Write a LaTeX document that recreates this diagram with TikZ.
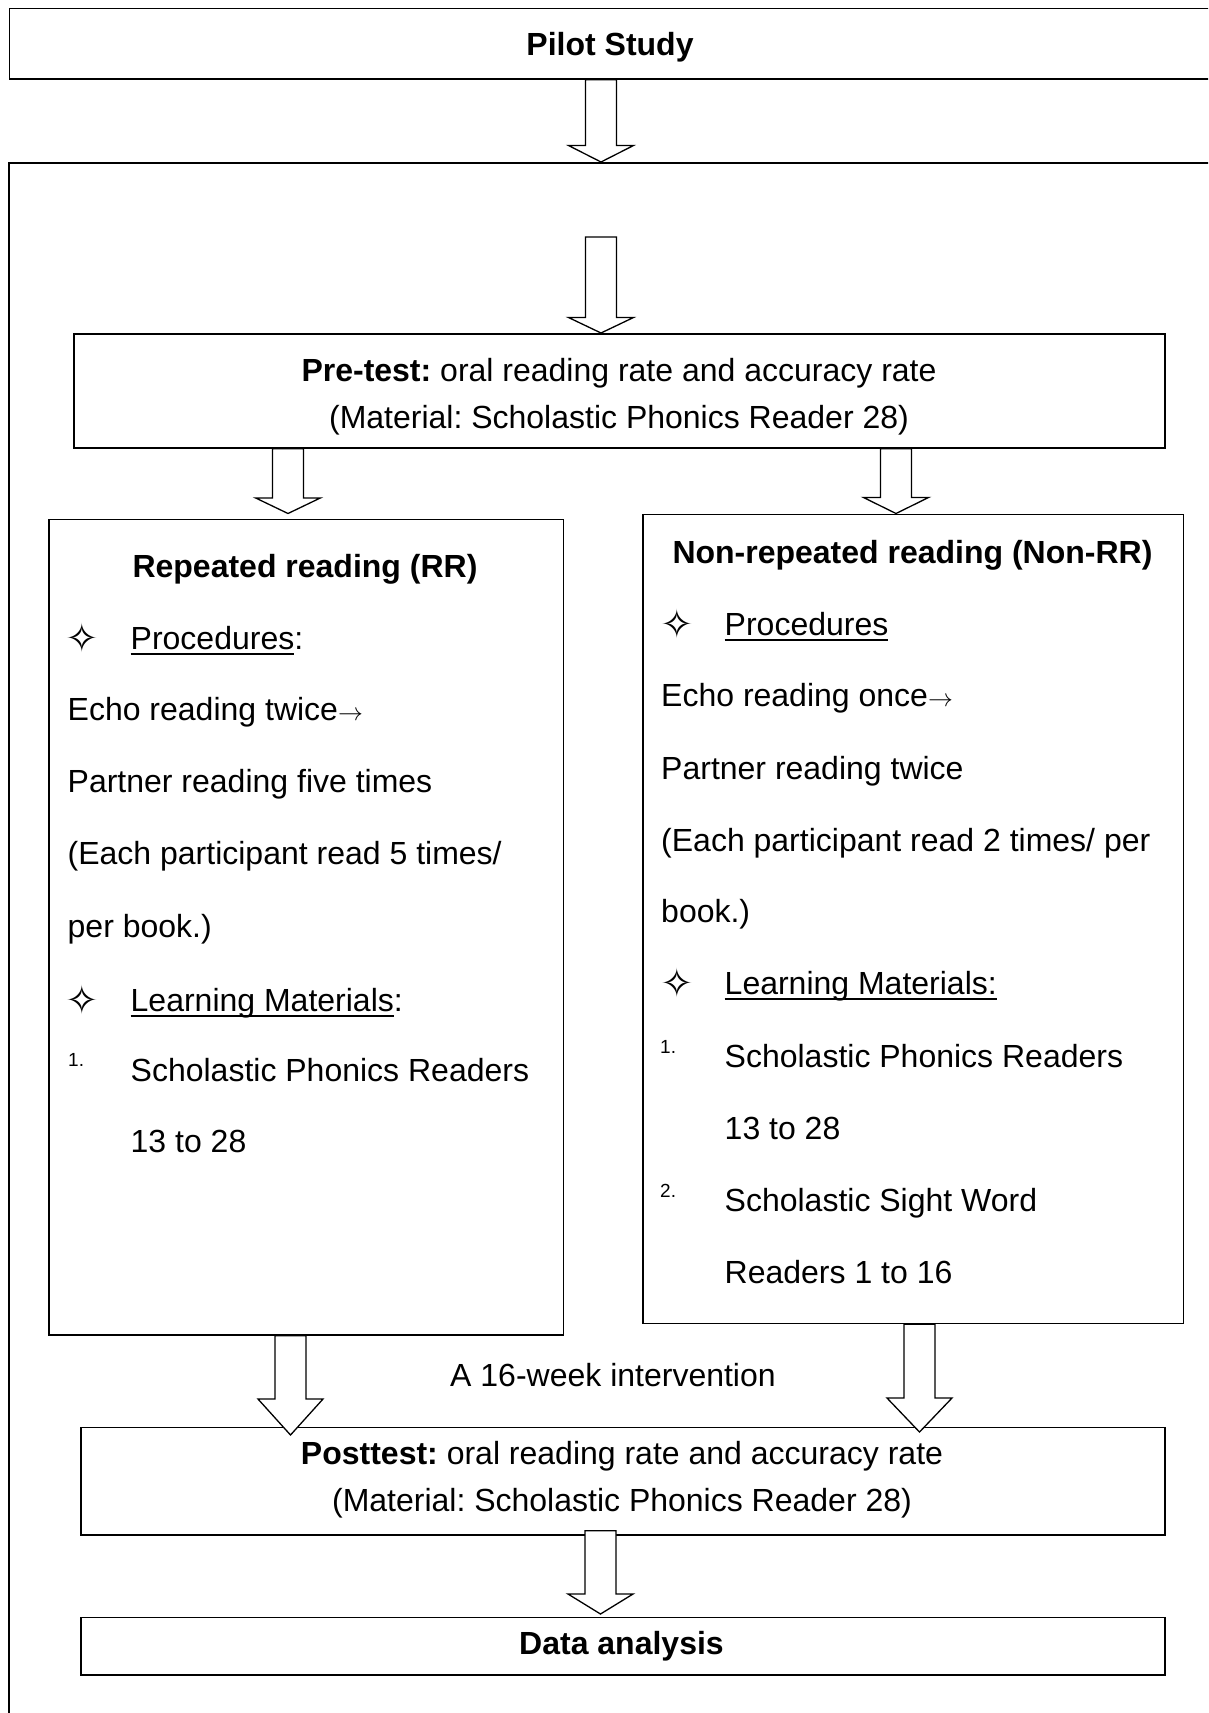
\documentclass[tikz,border=0pt]{standalone}
\usepackage{fontspec}
\setmainfont{Liberation Sans}
\newfontfamily\symfont{DejaVu Sans}
\usetikzlibrary{calc}
\frenchspacing
\newsavebox\ulbox
\newcommand\myul[1]{\sbox\ulbox{#1}\rlap{\rule[-6pt]{\wd\ulbox}{2.4pt}}\usebox\ulbox}
\newcommand\blockarrow[3]{%
  \draw[blk] let \p1=#1, \p2=#2 in
    (\x1-15.5pt,\y1) -- (\x1-15.5pt,\y2+#3pt) -- (\x1-32.5pt,\y2+#3pt) -- (\x1,\y2)
    -- (\x1+32.5pt,\y2+#3pt) -- (\x1+15.5pt,\y2+#3pt) -- (\x1+15.5pt,\y1) -- cycle;}
\tikzset{
  box/.style={draw, line width=1.8pt, rectangle, inner sep=0pt, anchor=north west},
  txt/.style={inner sep=0pt, font=\fontsize{32}{38}\selectfont\frenchspacing, anchor=base west},
  ctxt/.style={inner sep=0pt, font=\fontsize{32}{38}\selectfont\frenchspacing, anchor=base},
  btxt/.style={inner sep=0pt, font=\fontsize{32}{38}\selectfont\bfseries, anchor=base},
  num/.style={inner sep=0pt, font=\fontsize{19}{22}\selectfont, anchor=base west},
  star/.style={inner sep=0pt, font=\fontsize{40}{44}\selectfont\symfont},
  blk/.style={draw, line width=1.3pt, fill=white, line join=miter},
}
\begin{document}
\begin{tikzpicture}[x=1pt,y=-1pt]
\useasboundingbox (0,0) rectangle (1208,1713);
\fill[white] (0,0) rectangle (1208,1713);
\clip (0,0) rectangle (1208,1713);

% boxes
\node[box, minimum width=1300pt, minimum height=70.5pt] (pilot) at (8.5,7.5) {};
\node[box, minimum width=1300pt, minimum height=1650pt] (main) at (8,162) {};
\node[box, minimum width=1091pt, minimum height=114pt] (pre) at (73,333) {};
\node[box, minimum width=514.5pt, minimum height=815.5pt] (rr) at (48,518.5) {};
\node[box, minimum width=540.5pt, minimum height=809pt] (nrr) at (642,513.5) {};
\node[box, minimum width=1084pt, minimum height=107.5pt] (post) at (80,1426.5) {};
\node[box, minimum width=1084pt, minimum height=57.5pt] (data) at (80,1616.5) {};

% arrow positions
\coordinate (a1) at (601,0);
\coordinate (a2top) at (601,237);
\coordinate (a3) at (288,0);
\coordinate (a4) at (896,0);
\coordinate (a5) at (290.5,0);
\coordinate (a6) at (919.5,0);
\coordinate (a7) at (600.5,0);

\blockarrow{(pilot.south -| a1)}{(main.north -| a1)}{16.5}
\blockarrow{(a2top)}{(pre.north -| a2top)}{15.5}
\blockarrow{(pre.south -| a3)}{($(rr.north -| a3)+(0,-5)$)}{15.6}
\blockarrow{(pre.south -| a4)}{(nrr.north -| a4)}{16}
\blockarrow{(rr.south -| a5)}{($(post.north -| a5)+(0,8.5)$)}{36}
\blockarrow{(nrr.south -| a6)}{($(post.north -| a6)+(0,5.5)$)}{34}
\blockarrow{($(post.south -| a7)+(0,-5)$)}{($(data.north -| a7)+(0,-2.5)$)}{20}

% texts
\node[btxt] (tpilot) at (610,55.5) {Pilot Study};
\node[ctxt] (tpre1) at (619,381.5) {\textbf{Pre-test:} oral reading rate and accuracy rate};
\node[ctxt] (tpre2) at (619,428.5) {(Material: Scholastic Phonics Reader 28)};

% RR
\node[btxt] (trr) at (305,577) {Repeated reading (RR)};
\node[star] (s1) at (82,638) {✧};
\node[txt] (r1) at (130.5,649) {\myul{Procedures}:};
\node[txt] (r2) at (67.5,720) {Echo reading twice$\rightarrow$};
\node[txt] (r3) at (67.5,792) {Partner reading five times};
\node[txt] (r4) at (67.5,864) {(Each participant read 5 times/};
\node[txt] (r5) at (67.5,937) {per book.)};
\node[star] (s2) at (82,1000) {✧};
\node[txt] (r6) at (130.5,1011) {\myul{Learning Materials}:};
\node[num] (n1) at (68,1066) {1.};
\node[txt] (r7) at (130.5,1081) {Scholastic Phonics Readers};
\node[txt] (r8) at (130.5,1152) {13 to 28};

% Non-RR
\node[btxt] (tnrr) at (912.5,563.3) {Non-repeated reading (Non-RR)};
\node[star] (s3) at (677,624) {✧};
\node[txt] (q1) at (724.5,635) {\myul{Procedures}};
\node[txt] (q2) at (661,706) {Echo reading once$\rightarrow$};
\node[txt] (q3) at (661,779) {Partner reading twice};
\node[txt] (q4) at (661,851) {(Each participant read 2 times/ per};
\node[txt] (q5) at (661,922) {book.)};
\node[star] (s4) at (677,983) {✧};
\node[txt] (q6) at (724.5,994) {\myul{Learning Materials:}};
\node[num] (n2) at (660,1053) {1.};
\node[txt] (q7) at (724.5,1067) {Scholastic Phonics Readers};
\node[txt] (q8) at (724.5,1139) {13 to 28};
\node[num] (n3) at (660,1197) {2.};
\node[txt] (q9) at (724.5,1211) {Scholastic Sight Word};
\node[txt] (q10) at (724.5,1283) {Readers 1 to 16};

\node[ctxt] (tint) at (613,1386) {A 16-week intervention};
\node[ctxt] (tpost1) at (622,1464) {\textbf{Posttest:} oral reading rate and accuracy rate};
\node[ctxt] (tpost2) at (622,1511.5) {(Material: Scholastic Phonics Reader 28)};
\node[btxt] (tdata) at (621.5,1654) {Data analysis};
\end{tikzpicture}
\end{document}
